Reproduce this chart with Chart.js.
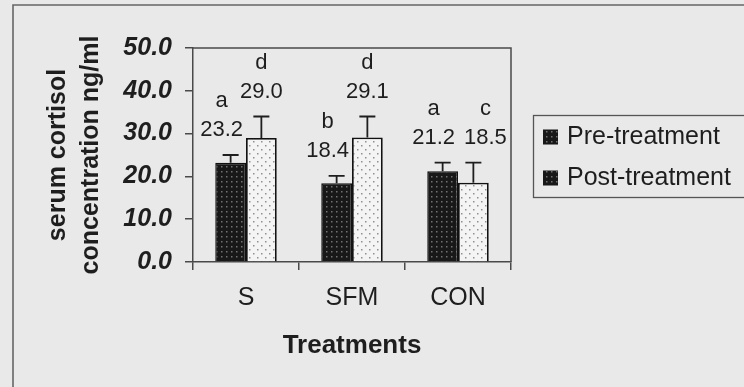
<!DOCTYPE html>
<html><head><meta charset="utf-8">
<script src="https://cdn.jsdelivr.net/npm/chart.js@4"></script>
<style>
html,body{margin:0;padding:0;background:#e9e9e9;}
canvas{display:block;}
</style>
</head><body>
<canvas id="c" width="744" height="387"></canvas>
<script>
// Serum cortisol (ng/ml) before and after each treatment
const treatments = ['S', 'SFM', 'CON'];
const preValues = [23.2, 18.4, 21.2];
const postValues = [29.0, 29.1, 18.5];
const preErrors = [1.8, 1.7, 2.0];
const postErrors = [5.0, 4.9, 4.7];
const preLetters = ['a', 'b', 'a'];
const postLetters = ['d', 'd', 'c'];
const yTicks = [0, 10, 20, 30, 40, 50];

const FONT = "'Liberation Sans', Arial, sans-serif";
const INK = '#1e1e1e';
const AXIS = '#4a4a4a';
const PAGE = '#e9e9e9';

function dotPattern(bg, dot, step, staggered) {
  const c = document.createElement('canvas');
  c.width = step; c.height = step;
  const g = c.getContext('2d');
  g.fillStyle = bg; g.fillRect(0, 0, step, step);
  g.fillStyle = dot;
  g.fillRect(1, 1, 1.5, 1.5);
  if (staggered) g.fillRect(1 + step / 2, 1 + step / 2, 1.5, 1.5);
  return g.createPattern(c, 'repeat');
}
const preFill = dotPattern('#181818', '#727272', 5, false);
const postFill = dotPattern('#f4f4f4', '#8f8f8f', 8, true);

const errorsByDataset = [preErrors, postErrors];
const lettersByDataset = [preLetters, postLetters];

// page background and outer frame
const framePlugin = {
  id: 'frame',
  beforeDraw(chart) {
    const ctx = chart.ctx;
    ctx.save();
    ctx.fillStyle = PAGE;
    ctx.fillRect(0, 0, chart.width, chart.height);
    ctx.strokeStyle = '#666';
    ctx.lineWidth = 1.6;
    ctx.beginPath();
    ctx.moveTo(13, chart.height + 2);
    ctx.lineTo(13, 5);
    ctx.lineTo(chart.width + 2, 5);
    ctx.stroke();
    ctx.restore();
  }
};

// closes the plot box on top and right
const boxPlugin = {
  id: 'box',
  afterDraw(chart) {
    const a = chart.chartArea, ctx = chart.ctx;
    ctx.save();
    ctx.strokeStyle = AXIS;
    ctx.lineWidth = 1.5;
    ctx.beginPath();
    ctx.moveTo(a.left, a.top);
    ctx.lineTo(a.right, a.top);
    ctx.lineTo(a.right, a.bottom);
    ctx.stroke();
    ctx.restore();
  }
};

// upper error bars, value labels and significance letters
const annotatePlugin = {
  id: 'annotate',
  afterDatasetsDraw(chart) {
    const ctx = chart.ctx, y = chart.scales.y;
    ctx.save();
    ctx.font = '22px ' + FONT;
    ctx.textAlign = 'center';
    ctx.textBaseline = 'middle';
    const placed = [];
    chart.data.datasets.forEach((ds, i) => {
      const meta = chart.getDatasetMeta(i);
      meta.data.forEach((bar, j) => {
        const v = ds.data[j];
        const top = y.getPixelForValue(v + errorsByDataset[i][j]);
        ctx.strokeStyle = INK;
        ctx.lineWidth = 1.8;
        ctx.beginPath();
        ctx.moveTo(bar.x, bar.y);
        ctx.lineTo(bar.x, top);
        ctx.moveTo(bar.x - 8, top);
        ctx.lineTo(bar.x + 8, top);
        ctx.stroke();

        const txt = v.toFixed(1);
        const w = ctx.measureText(txt).width;
        const ny = top - 25;
        let nx = i === 0 ? bar.x - 9 : bar.x;
        if (i === 1) {
          const p = placed[j];
          if (p && Math.abs(p.y - ny) < 22 && nx - w / 2 < p.right + 9) {
            nx = p.right + 9 + w / 2;
          }
        } else {
          placed[j] = { y: ny, right: nx + w / 2 };
        }
        ctx.fillStyle = INK;
        ctx.fillText(txt, nx, ny);
        ctx.fillText(lettersByDataset[i][j], nx, ny - 29);
      });
    });
    ctx.restore();
  }
};

// boxed legend on the right
const legendPlugin = {
  id: 'boxLegend',
  afterDraw(chart) {
    const ctx = chart.ctx;
    const x0 = 533.5, y0 = 115.5, h = 82;
    ctx.save();
    ctx.strokeStyle = '#555';
    ctx.lineWidth = 1.3;
    ctx.strokeRect(x0, y0, chart.width - x0 + 3, h);
    ctx.font = '25px ' + FONT;
    ctx.textBaseline = 'middle';
    ctx.textAlign = 'left';
    chart.data.datasets.forEach((ds, i) => {
      const cy = 137 + i * 41;
      ctx.fillStyle = preFill;
      ctx.fillRect(543, cy - 7.5, 15, 15);
      ctx.fillStyle = INK;
      ctx.fillText(ds.label, 567, cy);
    });
    ctx.restore();
  }
};

new Chart(document.getElementById('c'), {
  type: 'bar',
  data: {
    labels: treatments,
    datasets: [
      { label: 'Pre-treatment', data: preValues, backgroundColor: preFill,
        borderColor: '#111', borderWidth: 1.5, borderSkipped: 'bottom' },
      { label: 'Post-treatment', data: postValues, backgroundColor: postFill,
        borderColor: '#111', borderWidth: 1.8, borderSkipped: 'bottom' }
    ]
  },
  options: {
    responsive: false,
    animation: false,
    devicePixelRatio: 1,
    layout: { padding: { left: 0, right: 233, top: 48, bottom: 0 } },
    datasets: { bar: { categoryPercentage: 0.58, barPercentage: 1.0 } },
    plugins: { legend: { display: false }, tooltip: { enabled: false } },
    scales: {
      x: {
        grid: { display: true, drawOnChartArea: false, offset: true, tickLength: 8, color: AXIS, lineWidth: 1.5 },
        border: { color: AXIS, width: 1.5 },
        ticks: { padding: 13, color: INK, font: { family: FONT, size: 25 } },
        title: { display: true, text: 'Treatments', color: INK,
                 font: { family: FONT, size: 26, weight: 'bold' }, padding: { top: 0, bottom: 26 } },
        afterFit(s) { s.height = 125; }
      },
      y: {
        min: 0, max: 50,
        afterBuildTicks(s) { s.ticks = yTicks.map(v => ({ value: v })); },
        grid: { display: true, drawOnChartArea: false, tickLength: 8, color: AXIS, lineWidth: 1.5 },
        border: { color: AXIS, width: 1.5 },
        ticks: { padding: 13, color: INK, callback: v => Number(v).toFixed(1),
                 font: { family: FONT, size: 25, weight: 'bold', style: 'italic' } },
        title: { display: true, text: ['serum cortisol', 'concentration ng/ml'], color: INK,
                 font: { family: FONT, size: 25, weight: 'bold', lineHeight: 1.32 },
                 padding: { top: 42, bottom: 0 } },
        afterFit(s) { s.width = 193; }
      }
    }
  },
  plugins: [framePlugin, boxPlugin, annotatePlugin, legendPlugin]
});
</script>
</body></html>
